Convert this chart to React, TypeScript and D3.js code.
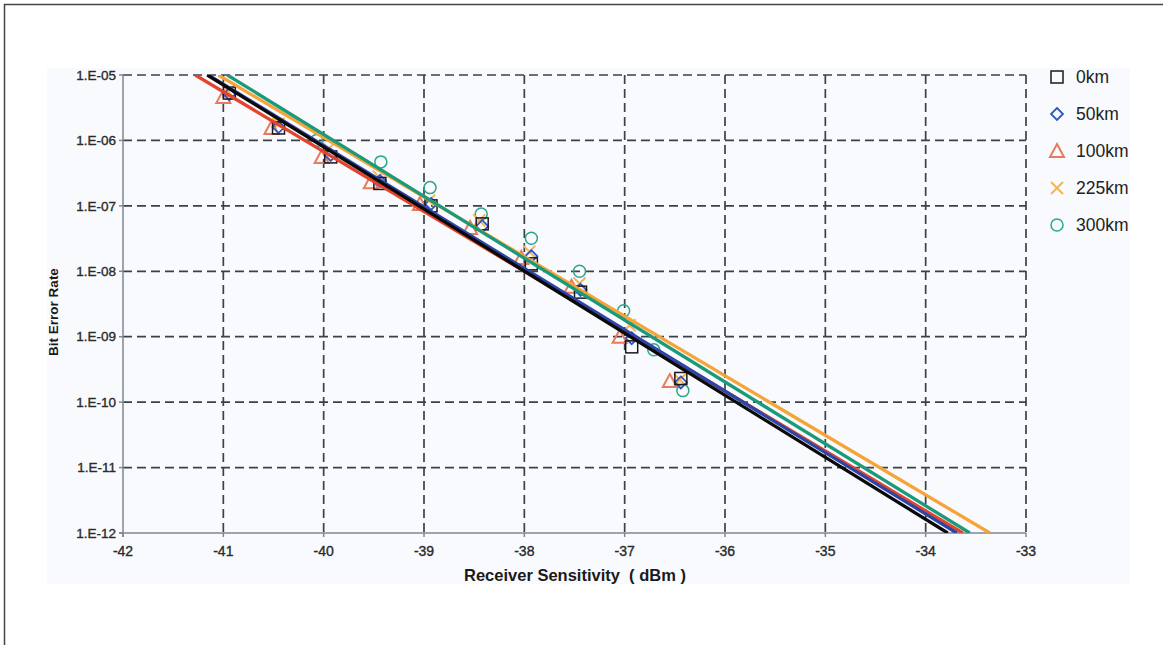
import * as d3 from 'd3'

const xTicks = [-42, -41, -40, -39, -38, -37, -36, -35, -34, -33]
const yTicks = [1e-5, 1e-6, 1e-7, 1e-8, 1e-9, 1e-10, 1e-11, 1e-12]

const seriesNames = ['0km', '50km', '100km', '225km', '300km']

// measured points (dBm, BER)
const x0km = [-40.94, -40.45, -39.93, -39.44, -38.93, -38.42, -37.93, -37.44, -36.93, -36.44]
const ber0km = [5.3e-6, 1.55e-6, 5.6e-7, 2.2e-7, 1.0e-7, 5.3e-8, 1.3e-8, 4.8e-9, 7.0e-10, 2.3e-10]
const x50km = [-40.94, -40.45, -39.93, -39.44, -38.93, -38.42, -37.93, -37.44, -36.93, -36.44]
const ber50km = [5.1e-6, 1.6e-6, 6.0e-7, 2.4e-7, 1.07e-7, 4.9e-8, 1.7e-8, 5.2e-9, 9.5e-10, 2.0e-10]
const x100km = [-41.0, -40.52, -40.02, -39.53, -39.04, -38.54, -38.03, -37.53, -37.05, -36.55]
const ber100km = [4.6e-6, 1.55e-6, 5.6e-7, 2.3e-7, 1.07e-7, 4.6e-8, 1.6e-8, 5.8e-9, 1.0e-9, 2.1e-10]
const x225km = [-40.95, -40.45, -39.95, -39.45, -38.95, -38.45, -37.95, -37.45, -36.95, -36.45]
const ber225km = [5.5e-6, 1.8e-6, 7.5e-7, 2.8e-7, 1.2e-7, 6.0e-8, 2.0e-8, 6.5e-9, 1.5e-9, 2.2e-10]
const x300km = [-40.07, -39.43, -38.94, -38.43, -37.93, -37.45, -37.01, -36.71, -36.42]
const ber300km = [1.0e-6, 4.7e-7, 1.9e-7, 7.5e-8, 3.2e-8, 1.0e-8, 2.5e-9, 6.3e-10, 1.5e-10]

// trendline ends: dBm where the fit crosses 1E-05 and 1E-12
const fitStart = [-41.16, -41.15, -41.28, -41.05, -40.96]
const fitEnd = [-33.78, -33.69, -33.63, -33.36, -33.56]

const xs = [x0km, x50km, x100km, x225km, x300km]
const bers = [ber0km, ber50km, ber100km, ber225km, ber300km]

const lineColors = ['#0a0a0a', '#2c45a6', '#e4432d', '#f6a43a', '#1a9a78']
const markerColors = ['#1a1a1a', '#2f56c8', '#e87a5e', '#f8b450', '#2aa88e']
const markerTypes = ['square', 'diamond', 'triangle', 'cross', 'circle']
const lineOrder = [3, 4, 2, 1, 0]

const W = 1163
const H = 645
const margin = { left: 123, right: 137, top: 75, bottom: 112 }
const font = 'Liberation Sans, Arial, sans-serif'

function Marker({ type, cx, cy, color, s = 6 }: { type: string; cx: number; cy: number; color: string; s?: number }) {
  const common = { fill: 'none', stroke: color, strokeWidth: 1.5 }
  if (type === 'square') return <rect x={cx - s} y={cy - s} width={2 * s} height={2 * s} {...common} />
  if (type === 'diamond')
    return <path d={`M${cx},${cy - s}L${cx + s},${cy}L${cx},${cy + s}L${cx - s},${cy}Z`} {...common} strokeWidth={1.8} />
  if (type === 'triangle')
    return <path d={`M${cx},${cy - s - 1}L${cx + s + 1},${cy + s}L${cx - s - 1},${cy + s}Z`} {...common} strokeWidth={2} />
  if (type === 'cross')
    return <path d={`M${cx - s},${cy - s}L${cx + s},${cy + s}M${cx + s},${cy - s}L${cx - s},${cy + s}`} {...common} strokeWidth={2} />
  return <circle cx={cx} cy={cy} r={s} {...common} />
}

export default function App() {
  const x = d3.scaleLinear().domain([-42, -33]).range([margin.left, W - margin.right])
  const y = d3.scaleLog().domain([1e-12, 1e-5]).range([H - margin.bottom, margin.top])
  const fmt = (v: number) => {
    const e = Math.round(Math.log10(v))
    return `1.E${e < 0 ? '-' : '+'}${String(Math.abs(e)).padStart(2, '0')}`
  }
  const line = d3
    .line<[number, number]>()
    .x((d) => x(d[0]))
    .y((d) => y(d[1]))
  const x0 = margin.left
  const x1 = W - margin.right
  const yTop = margin.top
  const yBot = H - margin.bottom
  const tickText = { fontFamily: font, fill: '#2a2a2a', stroke: '#2a2a2a', strokeWidth: 0.35 }

  return (
    <svg width={W} height={H} style={{ position: 'absolute', left: 0, top: 0, background: '#fff' }}>
      <defs>
        <clipPath id="chartClip">
          <rect x={47} y={68} width={1083} height={516} />
        </clipPath>
        <clipPath id="plotClip">
          <rect x={x0} y={yTop} width={x1 - x0} height={yBot - yTop} />
        </clipPath>
      </defs>
      <line x1={4} x2={W} y1={4.5} y2={4.5} stroke="#444" strokeWidth={1.5} />
      <line x1={4.5} x2={4.5} y1={4} y2={H} stroke="#444" strokeWidth={1.5} />
      <g clipPath="url(#chartClip)">
        <rect x={47} y={68} width={1083} height={516} fill="#f9fafd" />
        {/* grid */}
        {yTicks.slice(0, -1).map((t) => (
          <line key={t} x1={x0} x2={x1} y1={y(t)} y2={y(t)} stroke="#3a4148" strokeWidth={1.7} strokeDasharray="9,5" />
        ))}
        {xTicks.slice(1).map((t) => (
          <line key={t} x1={x(t)} x2={x(t)} y1={yTop} y2={yBot} stroke="#3a4148" strokeWidth={1.7} strokeDasharray="9,5" />
        ))}
        <line x1={x0} x2={x0} y1={yTop} y2={yBot + 4} stroke="#7c8894" strokeWidth={1.5} />
        <line x1={x0 - 4} x2={x1} y1={yBot} y2={yBot} stroke="#7c8894" strokeWidth={1.5} />
        {yTicks.map((t) => (
          <line key={t} x1={x0 - 4} x2={x0} y1={y(t)} y2={y(t)} stroke="#7c8894" strokeWidth={1.5} />
        ))}
        {xTicks.map((t) => (
          <line key={t} x1={x(t)} x2={x(t)} y1={yBot} y2={yBot + 4} stroke="#7c8894" strokeWidth={1.5} />
        ))}
        {/* tick labels */}
        {yTicks.map((t) => (
          <text key={t} x={x0 - 7} y={y(t)} dy="0.35em" textAnchor="end" fontSize={13.5} {...tickText}>
            {fmt(t)}
          </text>
        ))}
        {xTicks.map((t) => (
          <text key={t} x={x(t)} y={yBot + 23} textAnchor="middle" fontSize={14} {...tickText}>
            {t}
          </text>
        ))}
        <text x={575} y={yBot + 48} textAnchor="middle" fontFamily={font} fontSize={16.5} fontWeight="bold" fill="#1a1a1a" style={{ whiteSpace: 'pre' }}>
          {'Receiver Sensitivity  ( dBm )'}
        </text>
        <text
          transform={`translate(58,${(yTop + yBot) / 2 + 8}) rotate(-90)`}
          textAnchor="middle"
          fontFamily={font}
          fontSize={13.5}
          fontWeight="bold"
          fill="#1a1a1a"
        >
          Bit Error Rate
        </text>
        {/* markers */}
        <g clipPath="url(#plotClip)">
          {[4, 3, 2, 1, 0].map((si) =>
            xs[si].map((xv, i) => (
              <Marker key={`${si}-${i}`} type={markerTypes[si]} cx={x(xv)} cy={y(bers[si][i])} color={markerColors[si]} />
            )),
          )}
          {/* trendlines */}
          {lineOrder.map((si) => (
            <path
              key={si}
              d={line([
                [fitStart[si], 1e-5],
                [fitEnd[si], 1e-12],
              ]) ?? ''}
              fill="none"
              stroke={lineColors[si]}
              strokeWidth={3.3}
            />
          ))}
        </g>
        {/* legend */}
        {seriesNames.map((name, i) => (
          <g key={name} transform={`translate(1057,${77 + i * 37})`}>
            <Marker type={markerTypes[i]} cx={0} cy={0} color={markerColors[i]} s={6} />
            <text x={19} y={0} dy="0.36em" fontFamily={font} fontSize={17.5} fill="#222">
              {name}
            </text>
          </g>
        ))}
      </g>
    </svg>
  )
}
